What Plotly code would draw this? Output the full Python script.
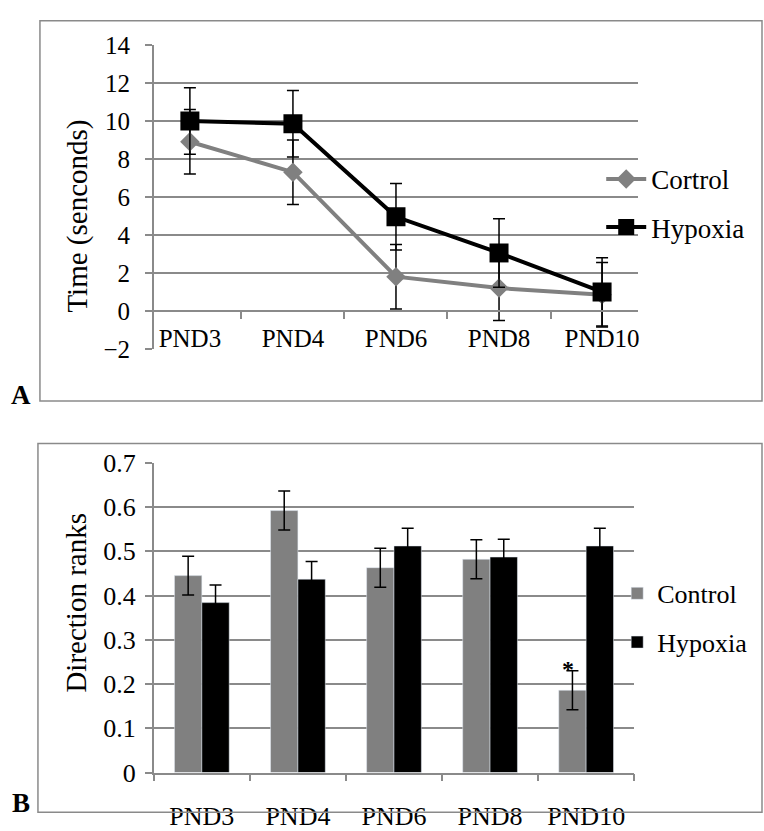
import plotly.graph_objects as go

W, H = 764, 831
FONT = "Liberation Serif"
GRID = "#8a8a8a"

days = ["PND3", "PND4", "PND6", "PND8", "PND10"]

# Panel A: time (seconds)
a_control = [8.9, 7.3, 1.8, 1.2, 0.85]
a_control_err = [1.7, 1.7, 1.7, 1.7, 1.7]
a_hypoxia = [10.0, 9.85, 4.95, 3.05, 1.0]
a_hypoxia_err = [1.75, 1.75, 1.75, 1.8, 1.8]
a_range = [-2, 14]

# Panel B: direction ranks
b_control = [0.445, 0.592, 0.463, 0.482, 0.186]
b_control_err = [0.044, 0.044, 0.044, 0.044, 0.044]
b_hypoxia = [0.384, 0.437, 0.512, 0.487, 0.512]
b_hypoxia_err = [0.04, 0.04, 0.04, 0.04, 0.04]
b_range = [0, 0.7]


def px(x):
    return x / W


def py(y):
    return 1 - y / H


fig = go.Figure()

fig.add_trace(go.Scatter(
    x=days, y=a_control, name="Cortrol", mode="lines+markers",
    line=dict(color="#808080", width=4),
    marker=dict(symbol="diamond", size=15, color="#808080"),
    error_y=dict(type="data", array=a_control_err, color="black", thickness=1.5, width=6),
    xaxis="x", yaxis="y", legend="legend", legendgroup="a1",
))
fig.add_trace(go.Scatter(
    x=days, y=a_hypoxia, name="Hypoxia", mode="lines+markers",
    line=dict(color="black", width=4),
    marker=dict(symbol="square", size=19, color="black"),
    error_y=dict(type="data", array=a_hypoxia_err, color="black", thickness=1.5, width=6),
    xaxis="x", yaxis="y", legend="legend", legendgroup="a2",
))

fig.add_trace(go.Bar(
    x=days, y=b_control, name="Control", marker_color="#808080",
    error_y=dict(type="data", array=b_control_err, color="black", thickness=1.5, width=6),
    xaxis="x2", yaxis="y2", legend="legend2", legendgroup="b1",
))
fig.add_trace(go.Bar(
    x=days, y=b_hypoxia, name="Hypoxia", marker_color="black",
    error_y=dict(type="data", array=b_hypoxia_err, color="black", thickness=1.5, width=6),
    xaxis="x2", yaxis="y2", legend="legend2", legendgroup="b2",
))

ya_dom = [py(347), py(32)]
yb_dom = [py(786), py(465)]
zero_pos = ya_dom[0] + (0 - a_range[0]) / (a_range[1] - a_range[0]) * (ya_dom[1] - ya_dom[0])

tickfont_a = dict(family=FONT, size=25, color="black")
tickfont_b = dict(family=FONT, size=26, color="black")

fig.update_layout(
    width=W, height=H,
    margin=dict(l=0, r=0, t=0, b=0),
    paper_bgcolor="white", plot_bgcolor="white",
    font=dict(family=FONT, color="black"),
    barmode="group", bargap=0.43, bargroupgap=0,
    xaxis=dict(
        domain=[px(154), px(639)], anchor="free", position=zero_pos,
        type="category", tickson="boundaries",
        showline=True, linecolor=GRID, linewidth=1.5,
        ticks="outside", ticklen=7, tickcolor=GRID, tickwidth=1.5,
        showgrid=False, tickfont=tickfont_a, ticklabelstandoff=5,
    ),
    yaxis=dict(
        domain=ya_dom, anchor="x", range=a_range, dtick=2,
        showline=True, linecolor=GRID, linewidth=1.5,
        ticks="outside", ticklen=7, tickcolor=GRID, tickwidth=1.5,
        showgrid=True, gridcolor=GRID, gridwidth=1.5, zeroline=False,
        tickfont=tickfont_a, ticklabelstandoff=10,
    ),
    xaxis2=dict(
        domain=[px(154), px(635)], anchor="y2",
        type="category", tickson="boundaries",
        showline=True, linecolor=GRID, linewidth=1.5,
        ticks="outside", ticklen=7, tickcolor=GRID, tickwidth=1.5,
        showgrid=False, tickfont=tickfont_b, ticklabelstandoff=19,
    ),
    yaxis2=dict(
        domain=yb_dom, anchor="x2", range=b_range, dtick=0.1,
        showline=True, linecolor=GRID, linewidth=1.5,
        ticks="outside", ticklen=7, tickcolor=GRID, tickwidth=1.5,
        showgrid=True, gridcolor=GRID, gridwidth=1.5, zeroline=False,
        tickfont=tickfont_b, ticklabelstandoff=4,
    ),
    legend=dict(
        x=px(602), y=py(146), xanchor="left", yanchor="top",
        font=dict(family=FONT, size=27, color="black"),
        bgcolor="rgba(0,0,0,0)", tracegroupgap=10, itemwidth=40,
    ),
    legend2=dict(
        x=px(618), y=py(576), xanchor="left", yanchor="top",
        font=dict(family=FONT, size=26, color="black"),
        bgcolor="rgba(0,0,0,0)", tracegroupgap=12,
    ),
    shapes=[
        dict(type="rect", xref="paper", yref="paper",
             x0=px(40), x1=px(763), y0=py(401), y1=py(7),
             line=dict(color=GRID, width=1.5)),
        dict(type="rect", xref="paper", yref="paper",
             x0=px(38), x1=px(763), y0=py(827), y1=py(445),
             line=dict(color=GRID, width=1.5)),
    ],
    annotations=[
        dict(text="Time (senconds)", x=px(78), y=py(209), xref="paper", yref="paper",
             xanchor="center", yanchor="middle",
             textangle=-90, showarrow=False, font=dict(family=FONT, size=29, color="black")),
        dict(text="Direction ranks", x=px(76), y=py(610), xref="paper", yref="paper",
             xanchor="center", yanchor="middle",
             textangle=-90, showarrow=False, font=dict(family=FONT, size=29, color="black")),
        dict(text="<b>A</b>", x=px(21), y=py(395), xref="paper", yref="paper",
             xanchor="center", yanchor="middle",
             showarrow=False, font=dict(family=FONT, size=27, color="black")),
        dict(text="<b>B</b>", x=px(21), y=py(818), xref="paper", yref="paper",
             xanchor="center", yanchor="middle",
             showarrow=False, font=dict(family=FONT, size=27, color="black")),
        dict(text="<b>*</b>", x=days[4], y=b_control[4] + b_control_err[4],
             xref="x2", yref="y2", xshift=-18, yshift=-13, yanchor="bottom",
             showarrow=False, font=dict(family=FONT, size=24, color="black")),
    ],
)

fig.write_html("out.html")
